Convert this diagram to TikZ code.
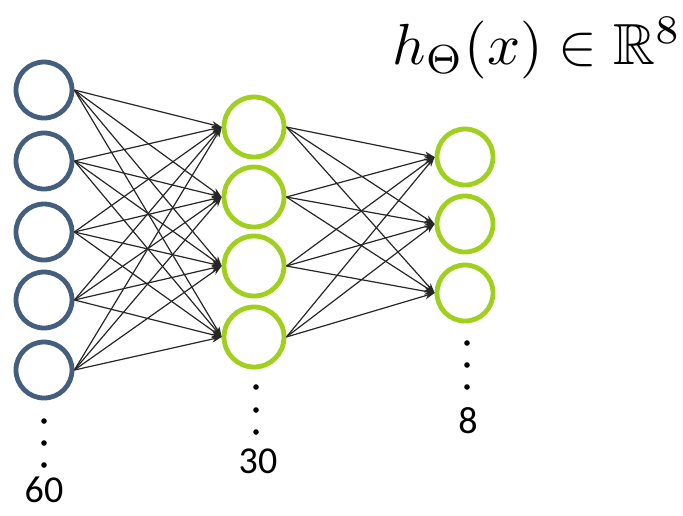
\documentclass[tikz,border=0pt]{standalone}
\usepackage{amsmath,amssymb}
\usepackage{fontspec}
\setsansfont{Carlito}
\usetikzlibrary{arrows.meta}
\definecolor{inblue}{RGB}{68,94,125}
\definecolor{limegreen}{RGB}{160,208,30}

\begin{document}
\begin{tikzpicture}[x=0.5pt,y=-0.5pt,
  every node/.style={font=\sffamily\fontsize{19}{21}\selectfont,inner sep=1pt},
  unit/.style={circle,draw,line width=2.4pt,minimum size=28pt,inner sep=0pt},
  link/.style={-{Stealth[length=5pt,width=3.5pt]},line width=0.6pt,black!85}]
\useasboundingbox (0,0) rectangle (683,515);
% layers
\foreach \y [count=\i] in {90,161,232,300,370}
  \node[unit,draw=inblue] (in\i) at (44,\y) {};
\foreach \y [count=\j] in {127,197,266,337}
  \node[unit,draw=limegreen,minimum size=30pt] (hid\j) at (254,\y) {};
\foreach \y [count=\k] in {157,224,293}
  \node[unit,draw=limegreen] (out\k) at (465,\y) {};
% connections
\foreach \i in {1,...,5}
  \foreach \j in {1,...,4}
    \draw[link] (in\i.east) -- (hid\j.west);
\foreach \j in {1,...,4}
  \foreach \k in {1,...,3}
    \draw[link] (hid\j.east) -- (out\k.west);
% dots and sizes
\foreach \y in {421,443,465}
  \fill (44,\y) circle[radius=1.4pt];
\foreach \y in {387,410,432}
  \fill (256,\y) circle[radius=1.4pt];
\foreach \y in {343,365,387}
  \fill (467,\y) circle[radius=1.4pt];
\node (n60) at (44,490) {60};
\node (n30) at (258,461) {30};
\node (n8) at (468,421) {8};
\node[font=\normalsize,scale=2.9] (hyp) at (537,48) {$h_\Theta(x)\in\mathbb{R}^8$};
\end{tikzpicture}
\end{document}
